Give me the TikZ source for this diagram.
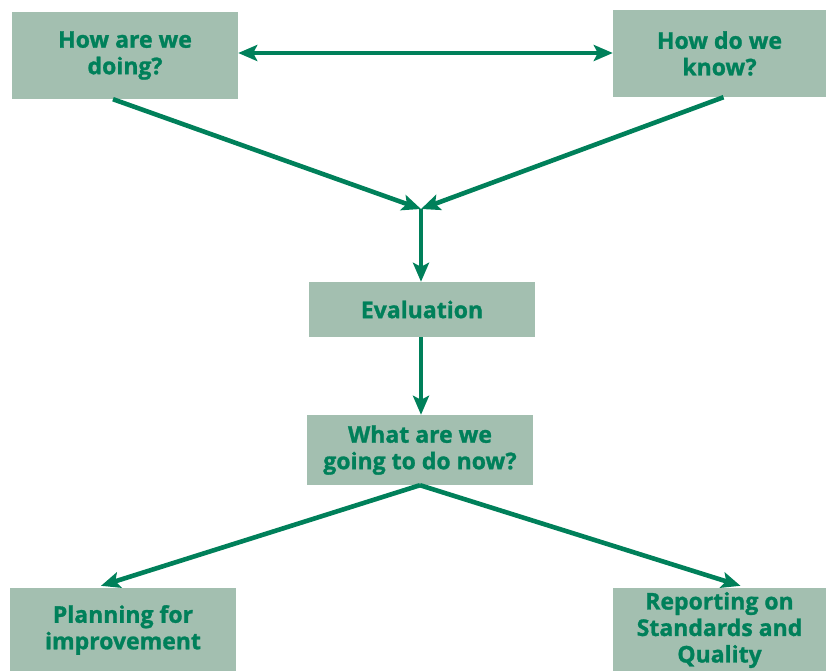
\documentclass[tikz,border=0pt]{standalone}
\usepackage{fontspec}
\setmainfont{Open Sans}[BoldFeatures={FakeBold=1.2}]
\usepackage{xcolor}
\usetikzlibrary{arrows.meta, calc}
\definecolor{boxfill}{RGB}{163, 191, 176}
\definecolor{flowgreen}{RGB}{0, 128, 90}

\tikzset{
    qbox/.style={fill=boxfill, text=flowgreen, align=center, inner sep=0pt,
        font=\bfseries\fontsize{23}{26.5}\selectfont},
    flow/.style={draw=flowgreen, line width=4.6pt,
        -{Stealth[length=19pt, width=16pt, inset=4pt]}},
    flowboth/.style={draw=flowgreen, line width=4.6pt,
        {Stealth[length=19pt, width=16pt, inset=4pt]}-{Stealth[length=19pt, width=16pt, inset=4pt]}}
}

\begin{document}
\begin{tikzpicture}[x=1pt, y=-1pt]
    \useasboundingbox (0,0) rectangle (826,670);

    % Top questions
    \node[qbox, minimum width=226pt, minimum height=87pt] (doing) at (125,55.5) {How are we\\doing?};
    \node[qbox, minimum width=213pt, minimum height=87pt] (know) at (719.5,53.5) {How do we\\know?};
    \draw[flowboth] ([yshift=2.5pt]doing.east) -- ([yshift=2.5pt]doing.east -| know.west);

    % Meeting point
    \coordinate (join) at (421,209);
    \draw[flow] ([xshift=-12pt]doing.south) -- (join);
    \draw[flow] ([xshift=4pt]know.south) -- (join);

    % Middle steps
    \node[qbox, minimum width=226pt, minimum height=55pt] (eval) at (422,309.5) {Evaluation};
    \node[qbox, minimum width=226pt, minimum height=70pt] (next) at (420,450) {What are we\\going to do now?};
    \draw[flow] (join) -- (join |- eval.north);
    \draw[flow] (eval.south -| join) -- (next.north -| join);

    % Outcomes
    \node[qbox, minimum width=226pt, minimum height=84pt] (plan) at (123,630) {Planning for\\improvement};
    \node[qbox, minimum width=213pt, minimum height=84pt] (report) at (719.5,630) {Reporting on\\Standards and\\Quality};
    \draw[flow] (next.south) -- ([xshift=-22pt, yshift=2pt]plan.north);
    \draw[flow] (next.south) -- ([xshift=21pt, yshift=2pt]report.north);
\end{tikzpicture}
\end{document}
